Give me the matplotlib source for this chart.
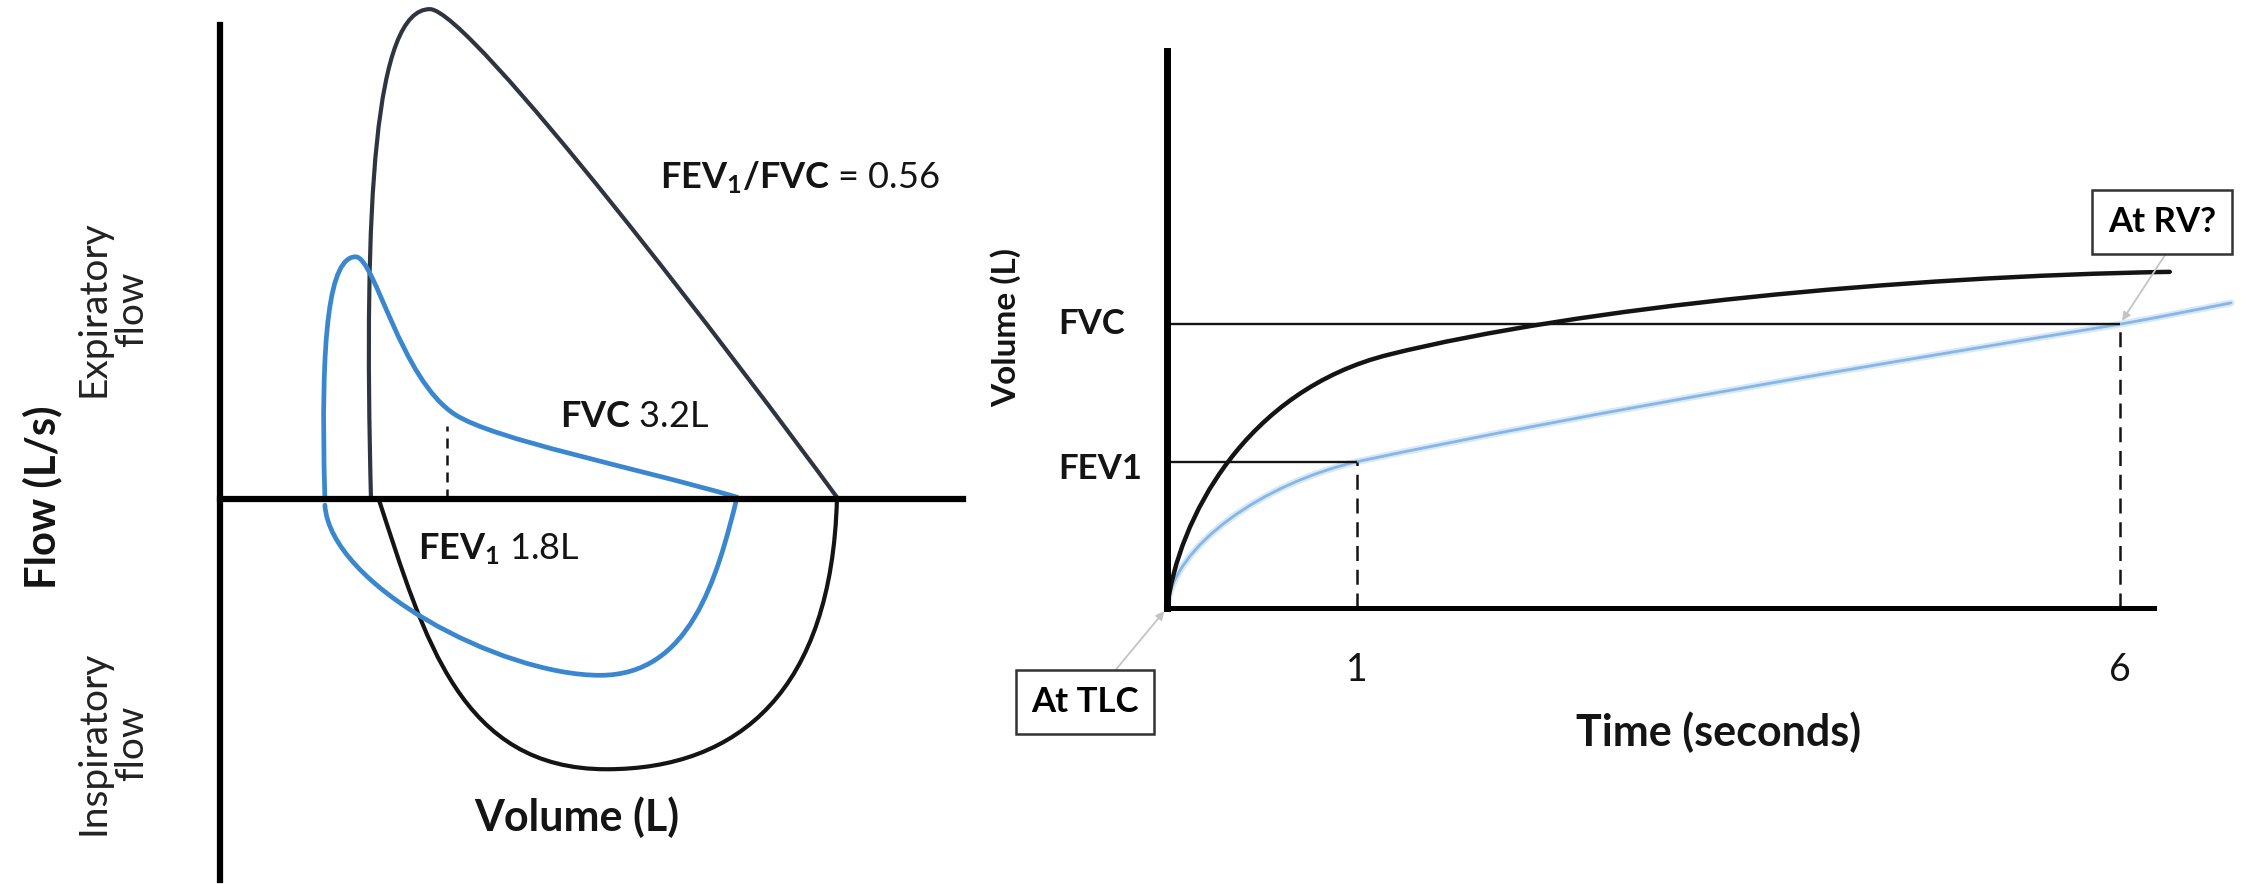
"""
spirometry.py — Flow-volume loops and volume-time curves

Left: normal (black) vs obstructive (blue) flow-volume loop.
Right: volume-time spirogram, FEV1 at 1 s and FVC at 6 s.
"""

import numpy as np
import matplotlib
matplotlib.use('Agg')
import matplotlib.pyplot as plt
import matplotlib.patheffects as pe
from matplotlib.path import Path
from matplotlib.patches import PathPatch

# --- left panel: flow-volume loops, cubic Bezier vertices (volume L, flow L/s)
normal_exp_vol = [1.18, 1.12, 1.21, 1.64, 1.95, 4.06, 4.83]
normal_exp_flow = [0.0, 4.90, 8.03, 8.03, 8.03, 2.21, 0.0]
normal_insp_vol = [1.24, 1.60, 1.88, 3.02, 4.06, 4.78, 4.82]
normal_insp_flow = [0.0, -2.31, -4.43, -4.43, -4.43, -3.13, 0.0]
obstr_loop_vol = [0.82, 0.78, 0.86, 1.06, 1.21, 1.41, 1.84, 2.15, 3.20, 4.04,
                  3.88, 3.67, 2.97, 2.19, 0.86, 0.82]
obstr_loop_flow = [0.0, 2.77, 3.97, 3.97, 3.97, 1.95, 1.38, 0.97, 0.54, 0.03,
                   -1.33, -2.89, -2.89, -2.89, -1.41, -0.10]
fev1_mark_vol = 1.77
fev1_mark_flow = 1.2

# --- right panel: volume-time curves (time s, volume L), cubic Bezier vertices
normal_t = [0, 0.042, 0.372, 1.195, 2.369, 4.482, 6.350]
normal_v = [0, 0.99, 2.46, 2.86, 3.39, 3.74, 3.79]
obstr_t = [0, 0.018, 0.479, 1.0, 2.497, 4.482, 6.0, 6.280, 6.527, 6.782]
obstr_v = [0, 0.71, 1.41, 1.65, 2.23, 2.79, 3.2, 3.28, 3.36, 3.44]
FEV1_T, FEV1_VOL = 1.0, 1.65
FVC_T, FVC_VOL = 6.0, 3.2
tick_times = [1, 6]
tick_labels = ['1', '6']

BLACK = '#141414'
SLATE = '#2f3540'
BLUE = '#3b87cf'
LIGHT_BLUE = '#86b6e6'

plt.rcParams['font.family'] = ['Lato', 'DejaVu Sans']
plt.rcParams['mathtext.fontset'] = 'custom'
plt.rcParams['mathtext.rm'] = 'Lato'
plt.rcParams['mathtext.bf'] = 'Lato:bold'
plt.rcParams['mathtext.it'] = 'Lato:italic'


def bezier(ax, xs, ys, **kw):
    """Draw a chain of cubic Bezier segments through the given vertices."""
    codes = [Path.MOVETO] + [Path.CURVE4] * (len(xs) - 1)
    path = Path(np.column_stack([xs, ys]), codes)
    patch = PathPatch(path, fill=False, clip_on=False,
                      capstyle='round', joinstyle='round', **kw)
    ax.add_patch(patch)
    return patch


def bare_axes(ax, lw_left, lw_bottom):
    for side in ('top', 'right'):
        ax.spines[side].set_visible(False)
    ax.spines['left'].set_linewidth(lw_left)
    ax.spines['bottom'].set_linewidth(lw_bottom)
    for side in ('left', 'bottom'):
        ax.spines[side].set_color('black')
        ax.spines[side].set_capstyle('projecting')
    ax.set_xticks([])
    ax.set_yticks([])
    ax.patch.set_alpha(0)


fig = plt.figure(figsize=(22.49, 8.84), dpi=100)

# ---------------- flow-volume loop
ax = fig.add_axes([0.0978, 0.0045, 0.3304, 0.9672])
bare_axes(ax, 4.5, 4.5)
ax.spines['bottom'].set_position(('data', 0))
ax.set_xlim(0, 5.805)
ax.set_ylim(-6.246, 7.770)

bezier(ax, normal_exp_vol, normal_exp_flow, edgecolor=SLATE, linewidth=3.0)
bezier(ax, normal_insp_vol, normal_insp_flow, edgecolor=BLACK, linewidth=3.0)
ax.plot([fev1_mark_vol, fev1_mark_vol], [0, fev1_mark_flow], color=BLACK,
        lw=1.8, ls=(0, (4, 2.8)))
bezier(ax, obstr_loop_vol, obstr_loop_flow, edgecolor=BLUE, linewidth=3.4)

ax.text(3.44, 5.26, r'$\mathbf{FEV_1/FVC}$ = 0.56', fontsize=26,
        ha='left', va='center', color=BLACK)
ax.text(2.656, 1.36, r'$\mathbf{FVC}$ 3.2L', fontsize=26,
        ha='left', va='center', color=BLACK)
ax.text(1.547, -0.82, r'$\mathbf{FEV_1}$ 1.8L', fontsize=26,
        ha='left', va='center', color=BLACK)
ax.text(2.789, -5.213, 'Volume (L)', fontsize=31, fontweight='bold',
        ha='center', va='center', color=BLACK)
ax.text(-1.39, 0.03, 'Flow (L/s)', fontsize=30, fontweight='bold',
        rotation=90, ha='center', va='center', color=BLACK)
ax.text(-0.836, 3.115, 'Expiratory\nflow', fontsize=28, rotation=90,
        ha='center', va='center', multialignment='center',
        linespacing=1.1, color='#222222')
ax.text(-0.836, -4.0, 'Inspiratory\nflow', fontsize=28, rotation=90,
        ha='center', va='center', multialignment='center',
        linespacing=1.1, color='#222222')

# ---------------- volume-time spirogram
ax2 = fig.add_axes([0.5189, 0.3122, 0.4389, 0.6301])
bare_axes(ax2, 5.0, 3.6)
# schematic, slightly compressed time axis
ax2.set_xscale('function', functions=(
    lambda t: np.power(np.clip(t, 0, None), 0.9),
    lambda u: np.power(np.clip(u, 0, None), 1 / 0.9)))
ax2.set_xlim(0, 6.24)
ax2.set_ylim(0, 6.28)
ax2.set_xticks([])

ax2.hlines(FVC_VOL, 0, FVC_T, color=BLACK, lw=1.7)
ax2.hlines(FEV1_VOL, 0, FEV1_T, color=BLACK, lw=1.7)
ax2.vlines([FEV1_T, FVC_T], 0, [FEV1_VOL, FVC_VOL], color=BLACK, lw=1.8,
           linestyles=[(0, (6, 3.5))])

blue = bezier(ax2, obstr_t, obstr_v, edgecolor=LIGHT_BLUE, linewidth=2.0)
blue.set_path_effects([pe.Stroke(linewidth=5, foreground='#d8e8f7'),
                       pe.Normal()])
bezier(ax2, normal_t, normal_v, edgecolor=BLACK, linewidth=3.2)

for t, lab in zip(tick_times, tick_labels):
    ax2.text(t, -0.111, lab, transform=ax2.get_xaxis_transform(),
             fontsize=27, ha='center', va='center', color=BLACK)
ax2.text(-0.110, FVC_VOL, 'FVC', transform=ax2.get_yaxis_transform(),
         fontsize=25, fontweight='bold', ha='left', va='center', color=BLACK)
ax2.text(-0.110, FEV1_VOL - 0.08, 'FEV1', transform=ax2.get_yaxis_transform(),
         fontsize=25, fontweight='bold', ha='left', va='center', color=BLACK)
ax2.text(0.559, -0.2226, 'Time (seconds)', transform=ax2.transAxes,
         fontsize=31, fontweight='bold', ha='center', va='center', color=BLACK)
ax2.text(-0.163, 0.5045, 'Volume (L)', transform=ax2.transAxes, rotation=90,
         fontsize=24, fontweight='bold', ha='center', va='center', color=BLACK)

box = dict(boxstyle='square,pad=0.45', fc='white', ec='#333333', lw=1.8)
ax2.annotate('At TLC', xy=(0, 0), xytext=(-0.0831, -0.1688),
             textcoords='axes fraction', fontsize=25, fontweight='bold',
             ha='center', va='center', bbox=box, annotation_clip=False,
             arrowprops=dict(arrowstyle='-|>', color='#c4c4c4', lw=1.3,
                             relpos=(0.66, 1.0), shrinkA=0, shrinkB=3,
                             mutation_scale=12))
ax2.annotate('At RV?', xy=(FVC_T, FVC_VOL), xytext=(1.0081, 0.6930),
             textcoords='axes fraction', fontsize=25, fontweight='bold',
             ha='center', va='center', bbox=box, annotation_clip=False,
             arrowprops=dict(arrowstyle='-|>', color='#c4c4c4', lw=1.3,
                             relpos=(0.63, 0.0), shrinkA=0, shrinkB=3,
                             mutation_scale=12))

fig.savefig('out.png', dpi=100, facecolor='white')
